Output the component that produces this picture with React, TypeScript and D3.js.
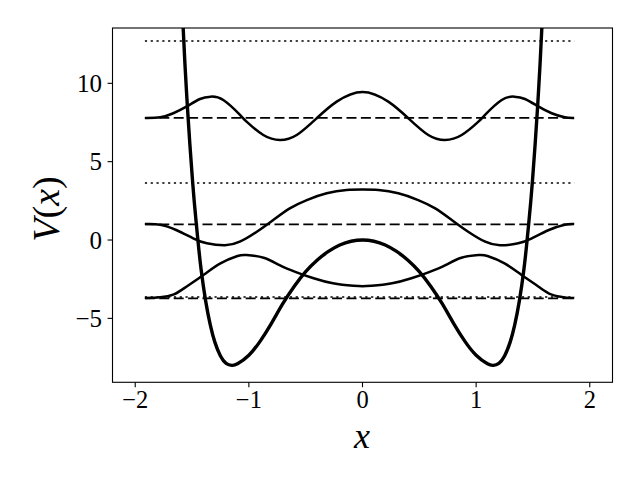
import React from "react";
import * as d3 from "d3";

// ---------- data ----------
const potentialX = [-1.62, -1.58, -1.56, -1.54, -1.52, -1.5, -1.48, -1.45, -1.42, -1.38, -1.34, -1.3, -1.25, -1.2, -1.15, -1.1, -1.0, -0.9, -0.8, -0.7, -0.6, -0.5, -0.4, -0.3, -0.2, -0.1, 0,
  0.1, 0.2, 0.3, 0.4, 0.5, 0.6, 0.7, 0.8, 0.9, 1.0, 1.1, 1.15, 1.2, 1.25, 1.3, 1.34, 1.38, 1.42, 1.45, 1.48, 1.5, 1.52, 1.54, 1.56, 1.58, 1.62];
const potentialV = [20.5, 13.8, 10.9, 8.4, 6.2, 4.2, 2.4, 0.1, -1.9, -3.9, -5.4, -6.5, -7.4, -7.87, -8.0, -7.9, -7.35, -6.45, -5.3, -4.05, -2.95, -2.02, -1.29, -0.73, -0.32, -0.08, 0,
  -0.08, -0.32, -0.73, -1.29, -2.02, -2.95, -4.05, -5.3, -6.45, -7.35, -7.9, -8.0, -7.87, -7.4, -6.5, -5.4, -3.9, -1.9, 0.1, 2.4, 4.2, 6.2, 8.4, 10.9, 13.8, 20.5];

const waveX1 = [-1.915, -1.78, -1.66, -1.55, -1.4, -1.25, -1.1, -1.02, -0.87, -0.73, -0.58, -0.43, -0.26, -0.08, 0, 0.08, 0.26, 0.43, 0.58, 0.73, 0.87, 1.02, 1.1, 1.25, 1.4, 1.55, 1.66, 1.78, 1.863];
const waveV1 = [-3.7, -3.66, -3.47, -2.98, -2.23, -1.49, -1.02, -0.96, -1.13, -1.6, -2.06, -2.44, -2.76, -2.92, -2.95, -2.92, -2.76, -2.44, -2.06, -1.6, -1.13, -0.96, -1.02, -1.49, -2.23, -2.98, -3.47, -3.66, -3.7];

const waveX2 = [-1.915, -1.78, -1.64, -1.49, -1.37, -1.21, -1.08, -0.93, -0.785, -0.64, -0.49, -0.315, -0.14, 0, 0.14, 0.315, 0.49, 0.64, 0.785, 0.93, 1.08, 1.21, 1.37, 1.49, 1.64, 1.78, 1.863];
const waveV2 = [1.02, 0.98, 0.64, 0.11, -0.21, -0.34, -0.11, 0.53, 1.28, 2.02, 2.55, 2.98, 3.19, 3.22, 3.19, 2.98, 2.55, 2.02, 1.28, 0.53, -0.11, -0.34, -0.21, 0.11, 0.64, 0.98, 1.02];

const waveX3 = [-1.915, -1.78, -1.665, -1.55, -1.43, -1.336, -1.225, -1.078, -1.02, -0.873, -0.726, -0.579, -0.403, -0.227, 0, 0.227, 0.403, 0.579, 0.726, 0.873, 1.02, 1.078, 1.225, 1.336, 1.43, 1.55, 1.665, 1.78, 1.863];
const waveV3 = [7.79, 7.83, 8.09, 8.51, 9.0, 9.15, 8.93, 7.98, 7.55, 6.7, 6.38, 6.7, 7.77, 8.83, 9.45, 8.83, 7.77, 6.7, 6.38, 6.7, 7.55, 7.98, 8.93, 9.15, 9.0, 8.51, 8.09, 7.83, 7.79];

const dashedLevels = [-3.73, 1.0, 7.79];
const dottedLevels = [-3.64, 3.64, 12.7];
const levelXRange = [-1.915, 1.863];

const xTicks = [-2, -1, 0, 1, 2];
const yTicks = [-5, 0, 5, 10];
const xDomain = [-2.2, 2.2];
const yDomain = [-9.08, 13.53];

// ---------- layout ----------
const W = 640;
const H = 480;
const left = 112.5;
const right = 612.5;
const top = 28;
const bottom = 382.3;

const fmt = (v: number) => (v < 0 ? "\u2212" + Math.abs(v) : String(v));

export default function App() {
  const x = d3.scaleLinear().domain(xDomain).range([left, right]);
  const y = d3.scaleLinear().domain(yDomain).range([bottom, top]);
  const line = d3
    .line<[number, number]>()
    .x((d) => x(d[0]))
    .y((d) => y(d[1]))
    .curve(d3.curveNatural);
  const zip = (xs: number[], vs: number[]) => xs.map((v, i) => [v, vs[i]] as [number, number]);

  const font = "'Liberation Serif', 'DejaVu Serif', serif";

  return (
    <svg width={W} height={H} style={{ position: "absolute", left: 0, top: 0, background: "#fff" }}>
      <rect x={0} y={0} width={W} height={H} fill="#fff" />
      <defs>
        <clipPath id="plotclip">
          <rect x={left} y={top} width={right - left} height={bottom - top} />
        </clipPath>
      </defs>
      <g clipPath="url(#plotclip)">
        {dottedLevels.map((v, i) => (
          <line key={"dt" + i} x1={x(levelXRange[0])} x2={x(levelXRange[1])} y1={y(v)} y2={y(v)}
            stroke="#000" strokeWidth={1.6} strokeDasharray="2.2,3.6" />
        ))}
        {dashedLevels.map((v, i) => (
          <line key={"ds" + i} x1={x(levelXRange[0])} x2={x(levelXRange[1])} y1={y(v)} y2={y(v)}
            stroke="#000" strokeWidth={1.7} strokeDasharray="10,4.4" />
        ))}
        <path d={line(zip(waveX1, waveV1)) || ""} fill="none" stroke="#000" strokeWidth={2.5} />
        <path d={line(zip(waveX2, waveV2)) || ""} fill="none" stroke="#000" strokeWidth={2.5} />
        <path d={line(zip(waveX3, waveV3)) || ""} fill="none" stroke="#000" strokeWidth={2.5} />
        <path d={line(zip(potentialX, potentialV)) || ""} fill="none" stroke="#000" strokeWidth={3.4} />
      </g>
      <rect x={left} y={top} width={right - left} height={bottom - top} fill="none" stroke="#000" strokeWidth={1.1} />
      {xTicks.map((t) => (
        <g key={"xt" + t}>
          <line x1={x(t)} x2={x(t)} y1={bottom} y2={bottom + 4.9} stroke="#000" strokeWidth={1.1} />
          <text x={x(t)} y={408} textAnchor="middle" fontFamily={font} fontSize={24.5}>{fmt(t)}</text>
        </g>
      ))}
      {yTicks.map((t) => (
        <g key={"yt" + t}>
          <line x1={left} x2={left - 4.9} y1={y(t)} y2={y(t)} stroke="#000" strokeWidth={1.1} />
          <text x={102} y={y(t) + 8.5} textAnchor="end" fontFamily={font} fontSize={25}>{fmt(t)}</text>
        </g>
      ))}
      <text x={362} y={448} textAnchor="middle" fontFamily={font} fontSize={36} fontStyle="italic">x</text>
      <text transform={`translate(59,209) rotate(-90)`} textAnchor="middle" fontFamily={font} fontSize={38}>
        <tspan fontStyle="italic">V</tspan>
        <tspan>(</tspan>
        <tspan fontStyle="italic">x</tspan>
        <tspan>)</tspan>
      </text>
    </svg>
  );
}
